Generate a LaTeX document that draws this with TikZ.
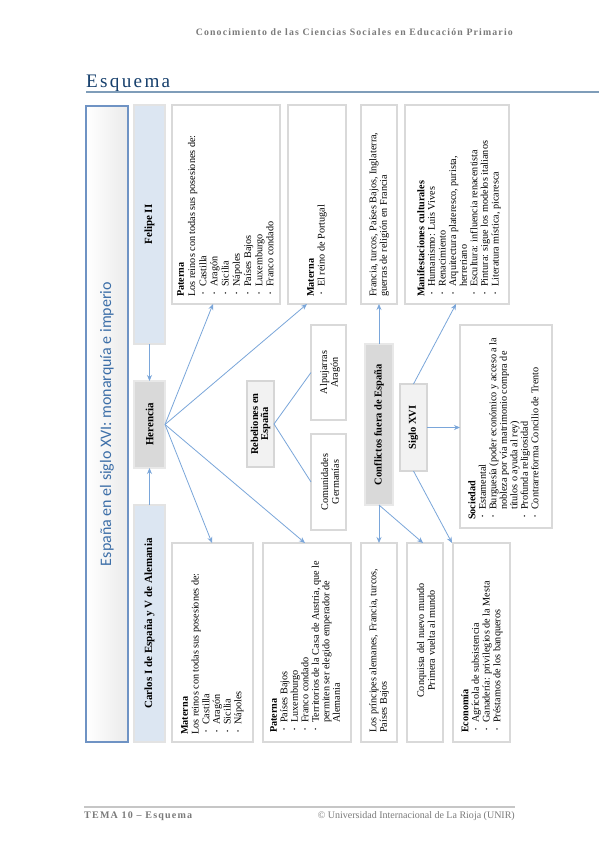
\documentclass[tikz,border=0pt]{standalone}
\usepackage{fontspec}
\usepackage{graphicx}
\setmainfont{Liberation Serif}
\newfontfamily\titlefont{Carlito}
\newfontfamily\spacedfont[LetterSpace=12]{Liberation Serif}
\usetikzlibrary{arrows.meta,calc}
\definecolor{arrowblue}{HTML}{7AA6DA}
\definecolor{titleblue}{HTML}{6F93C4}
\definecolor{titletext}{HTML}{3D6FA8}
\definecolor{esqblue}{HTML}{17406D}
\definecolor{ruleblue}{HTML}{7F9DB9}
\definecolor{lightblue}{HTML}{DCE6F2}
\definecolor{midgray}{HTML}{D9D9D9}
\definecolor{palegray}{HTML}{F2F2F2}
\definecolor{hdrgray}{HTML}{7A7A7A}
\newcommand{\mybox}[6]{\node[#1,minimum width={#5pt-#3pt},minimum height={#6pt-#4pt}] (#2) at ({(#3+#5)/2},{(#4+#6)/2}) {};}
\newcommand{\itm}{\makebox[10pt][l]{\hspace{2.5pt}\raisebox{0.25ex}{\scalebox{0.6}{\textbullet}}}}
\newcommand{\cont}{\hspace*{10pt}}
\begin{document}
\begin{tikzpicture}[x=1pt,y=-1pt,
  basebox/.style={rectangle,inner sep=0pt,outer sep=0pt},
  whitebox/.style={basebox,draw=gray!30,line width=1.3pt,fill=white},
  bluebox/.style={basebox,draw=gray!22,line width=1.2pt,fill=lightblue},
  darkbox/.style={basebox,draw=gray!18,line width=1.2pt,fill=midgray},
  palebox/.style={basebox,draw=gray!32,line width=1.2pt,fill=palegray},
  titlebox/.style={basebox,draw=titleblue,line width=1.3pt,left color=white,right color=gray!16},
  txt/.style={rotate=90,anchor=north west,inner sep=0pt,align=left,font=\fontsize{10.2}{10.7}\selectfont},
  ctxt/.style={rotate=90,inner sep=0pt,align=center,font=\fontsize{10.2}{10.7}\selectfont},
  lbl/.style={rotate=90,inner sep=0pt,align=center,font=\bfseries\fontsize{10.5}{10}\selectfont},
  biglbl/.style={lbl,font=\bfseries\fontsize{11}{11}\selectfont},
  arr/.style={draw=arrowblue,line width=0.8pt,-{Stealth[length=6pt,width=5pt]}},
  ln/.style={draw=arrowblue,line width=0.8pt}
]
\useasboundingbox (0,0) rectangle (599,848);
\fill[white] (0,0) rectangle (599,848);

% header and footer
\node[anchor=base east,inner sep=0pt,text=hdrgray] (hdr) at (513,36)
  {\resizebox{317pt}{!}{\bfseries\spacedfont Conocimiento de las Ciencias Sociales en Educación Primario}};
\node[anchor=base west,inner sep=0pt,text=esqblue] (esq) at (86,88)
  {\resizebox{84pt}{!}{\spacedfont Esquema}};
\coordinate (rulel) at (86,92);
\coordinate (ruler) at (599,92);
\draw[ruleblue,line width=2pt] (rulel) -- (ruler);
\coordinate (footl) at (84,807);
\coordinate (footr) at (515,807);
\draw[gray!45,line width=2pt] (footl) -- (footr);
\node[anchor=base west,inner sep=0pt,text=hdrgray] (ftl) at (84,818)
  {\resizebox{108pt}{!}{\bfseries\spacedfont TEMA 10 – Esquema}};
\node[anchor=base east,inner sep=0pt,text=hdrgray] (ftr) at (515,818)
  {\resizebox{197pt}{!}{© Universidad Internacional de La Rioja (UNIR)}};

% boxes
\mybox{titlebox}{title}{86}{106}{128}{742}
\mybox{bluebox}{felipe}{134}{105}{165}{344}
\mybox{whitebox}{patF}{172}{105}{280}{304}
\mybox{whitebox}{matF}{288}{105}{346}{304}
\mybox{whitebox}{fraF}{361}{105}{397}{304}
\mybox{whitebox}{manF}{405}{105}{509}{304}
\mybox{darkbox}{her}{134}{381}{165}{468}
\mybox{palebox}{rebel}{247}{381}{274}{467}
\mybox{whitebox}{alpuj}{311}{325}{346}{420}
\mybox{whitebox}{comun}{311}{434}{346}{530}
\mybox{darkbox}{confl}{365}{344}{393}{505}
\mybox{palebox}{siglo}{400}{384}{427}{471}
\mybox{whitebox}{soc}{460}{325}{552}{528}
\mybox{bluebox}{carlos}{134}{505}{165}{742}
\mybox{whitebox}{matC}{172}{543}{253}{742}
\mybox{whitebox}{patC}{263}{543}{351}{742}
\mybox{whitebox}{prinC}{361}{543}{397}{742}
\mybox{whitebox}{conqC}{407}{543}{443}{742}
\mybox{whitebox}{ecoC}{453}{543}{510}{742}

% labels
\node[rotate=90,inner sep=0pt,text=titletext,font=\titlefont\fontsize{16}{19}\selectfont] (ttl) at (title.center) {España en el siglo XVI: monarquía e imperio};
\node[biglbl] (l-felipe) at (felipe.center) {Felipe II};
\node[biglbl] (l-her) at (her.center) {Herencia};
\node[biglbl] (l-carlos) at (carlos.center) {Carlos I de España y V de Alemania};
\node[lbl] (l-rebel) at (rebel.center) {Rebeliones en\\España};
\node[lbl] (l-confl) at (confl.center) {Conflictos fuera de España};
\node[lbl] (l-siglo) at (siglo.center) {Siglo XVI};

% texts
\node[txt,font=\fontsize{10.2}{11.2}\selectfont] (t-patF) at ([xshift=5pt,yshift=7pt]patF.south west)
  {\textbf{Paterna}\\Los reinos con todas sus posesiones de:\\\itm Castilla\\\itm Aragón\\\itm Sicilia\\\itm Nápoles\\\itm Países Bajos\\\itm Luxemburgo\\\itm Franco condado};
\node[txt] (t-matF) at ([xshift=19pt,yshift=7pt]matF.south west)
  {\textbf{Materna}\\\itm El reino de Portugal};
\node[txt] (t-fraF) at ([xshift=8pt,yshift=7pt]fraF.south west)
  {Francia, turcos, Países Bajos, Inglaterra,\\guerras de religión en Francia};
\node[txt,font=\fontsize{10.2}{10.6}\selectfont] (t-manF) at ([xshift=12pt,yshift=7pt]manF.south west)
  {\textbf{Manifestaciones culturales}\\\itm Humanismo: Luis Vives\\\itm Renacimiento\\\itm Arquitectura plateresco, purista,\\\cont herreriano\\\itm Escultura: influencia renacentista\\\itm Pintura: sigue los modelos italianos\\\itm Literatura mística, picaresca};
\node[txt] (t-matC) at ([xshift=9pt,yshift=7pt]matC.south west)
  {\textbf{Materna}\\Los reinos con todas sus posesiones de:\\\itm Castilla\\\itm Aragón\\\itm Sicilia\\\itm Nápoles};
\node[txt,font=\fontsize{10.2}{10.5}\selectfont] (t-patC) at ([xshift=7pt,yshift=9pt]patC.south west)
  {\textbf{Paterna}\\\itm Países Bajos\\\itm Luxemburgo\\\itm Franco condado\\\itm Territorios de la Casa de Austria, que le\\\cont permiten ser elegido emperador de\\\cont Alemania};
\node[txt] (t-prinC) at ([xshift=8pt,yshift=9pt]prinC.south west)
  {Los príncipes alemanes, Francia, turcos,\\Países Bajos};
\node[ctxt] (t-conqC) at ([xshift=1pt,yshift=2pt]conqC.center)
  {Conquista del nuevo mundo\\Primera vuelta al mundo};
\node[txt] (t-ecoC) at ([xshift=8pt,yshift=9pt]ecoC.south west)
  {\textbf{Economía}\\\itm Agrícola de subsistencia\\\itm Ganadería: privilegios de la Mesta\\\itm Préstamos de los banqueros};
\node[txt,font=\fontsize{10.2}{10.5}\selectfont] (t-soc) at ([xshift=8pt,yshift=8pt]soc.south west)
  {\textbf{Sociedad}\\\itm Estamental\\\itm Burguesía (poder económico y acceso a la\\\cont nobleza por vía matrimonio compra de\\\cont títulos o ayuda al rey)\\\itm Profunda religiosidad\\\itm Contrarreforma Concilio de Trento};
\node[ctxt] (t-alpuj) at ([xshift=1.5pt]alpuj.center) {Alpujarras\\Aragón};
\node[ctxt] (t-comun) at ([xshift=1.5pt]comun.center) {Comunidades\\Germanías};

% connectors
\draw[arr] (felipe.south) -- (her.north);
\draw[arr] (carlos.north) -- (her.south);
\draw[arr] (her.east) -- ([xshift=41pt]patF.south west);
\draw[arr] (her.east) -- ([xshift=19pt]matF.south west);
\draw[arr] (her.east) -- ([xshift=40pt]matC.north west);
\draw[arr] (her.east) -- ([xshift=42pt]patC.north west);
\draw[ln] (rebel.east) -- (alpuj.west);
\draw[ln] (rebel.east) -- (comun.west);
\draw[arr] (confl.north) -- (confl.north |- fraF.south);
\draw[arr] (confl.south) -- (confl.south |- prinC.north);
\draw[arr] (confl.south) -- ([xshift=16pt]conqC.north west);
\draw[arr] (siglo.north) -- ([xshift=51pt]manF.south west);
\draw[arr] (siglo.east) -- (siglo.east -| soc.west);
\draw[arr] (siglo.south) -- ([xshift=-1pt]ecoC.north west);
\end{tikzpicture}
\end{document}
